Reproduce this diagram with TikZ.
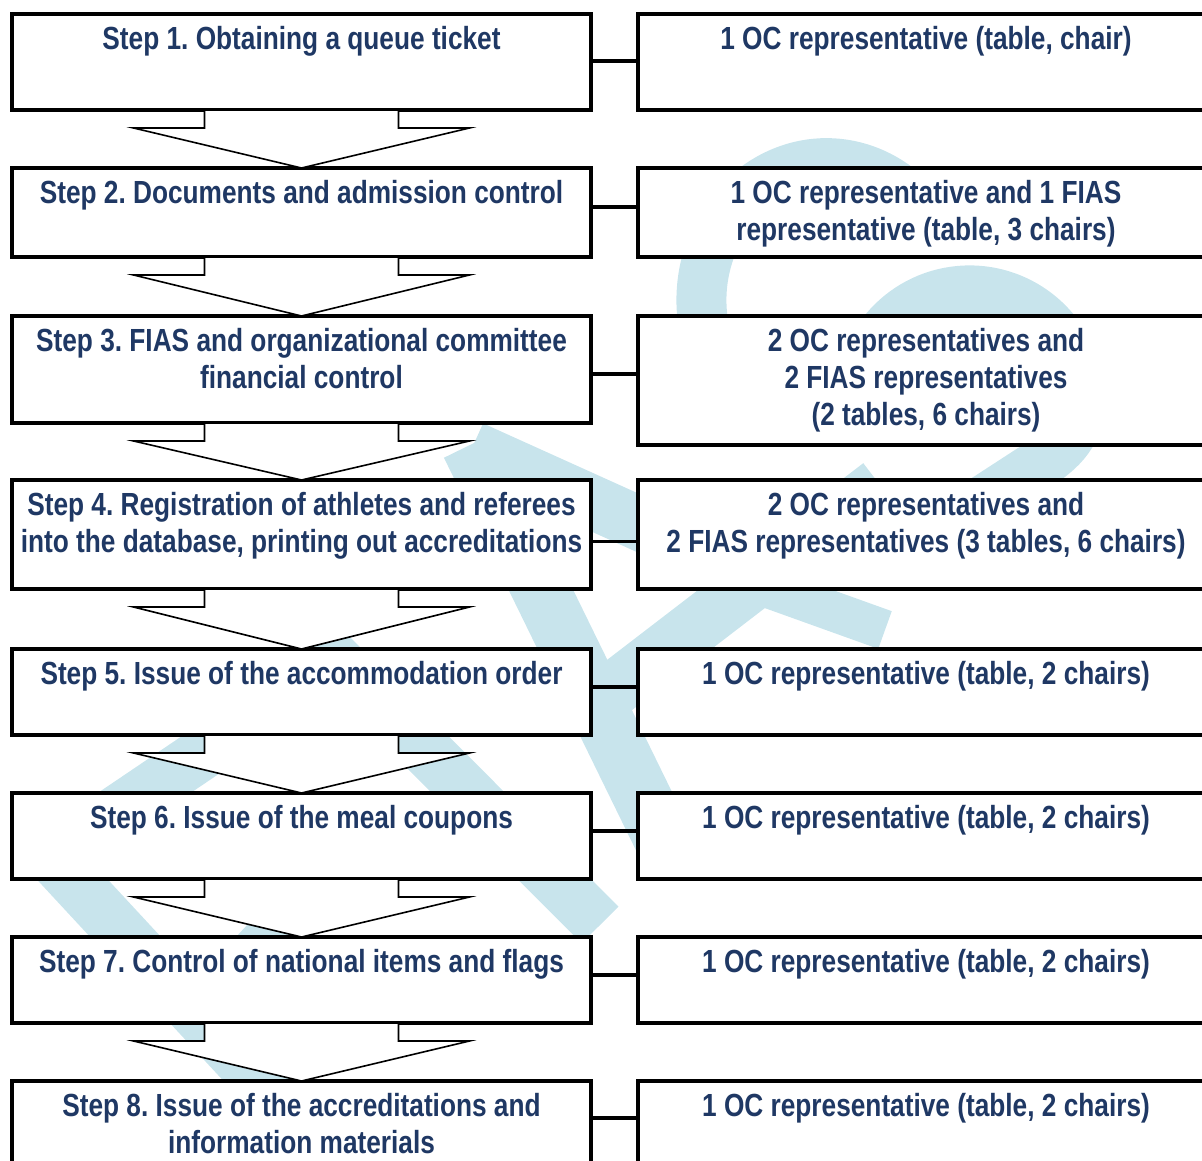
\documentclass[tikz,border=0pt]{standalone}
\usepackage{fontspec}
\setmainfont{Liberation Sans}[FakeStretch=0.82]
\usetikzlibrary{positioning}
\definecolor{stepnavy}{RGB}{31,56,100}
\definecolor{wmblue}{RGB}{200,228,236}
\tikzset{
  stepbox/.style={draw, line width=3.5pt, fill=white, rectangle, inner sep=0pt, outer sep=0pt},
  steptext/.style={text=stepnavy, font=\bfseries\fontsize{32}{37}\selectfont, align=center, inner sep=0pt},
  link/.style={line width=3.5pt},
  flowarrow/.style={draw, fill=white, line width=1.6pt, line join=miter},
  wm/.style={draw=wmblue, line width=52pt}
}
\frenchspacing

\begin{document}
\begin{tikzpicture}[x=1pt,y=1pt]
      \useasboundingbox (0,0) rectangle (1202,1160);
      % watermark in the background (image pixels, y going down)
      \begin{scope}[shift={(0,1160)}, yscale=-1]
        \draw [wm, line width=50pt] (709,347) arc[start angle=160, end angle=330, x radius=125, y radius=137];
        \draw [wm, line width=50pt] (860,410) arc[start angle=175, end angle=360, radius=110] .. controls (1080,430) and (1065,450) .. (1030,470) -- (930,535);
        \draw [wm, line width=54pt] (472,448) -- (720,560);
        \draw [wm, line width=58pt] (470,445) -- (672,858);
        \draw [wm, line width=55pt] (600,700) -- (880,485);
        \draw [wm, line width=40pt] (690,560) -- (885,630);
        \draw [wm, line join=miter] (45,860) -- (338,662) -- (600,925);
        \draw [wm] (45,850) -- (360,1190);
        \draw [wm, line width=50pt] (230,980) -- (300,905);
      \end{scope}
      % steps
      \node[stepbox, minimum width=579, minimum height=96] (s1) at (301.5,1098) {};
      \node[stepbox, minimum width=579, minimum height=89] (s2) at (301.5,947.5) {};
      \node[stepbox, minimum width=579, minimum height=107] (s3) at (301.5,790.5) {};
      \node[stepbox, minimum width=579, minimum height=109] (s4) at (301.5,625.5) {};
      \node[stepbox, minimum width=579, minimum height=86] (s5) at (301.5,468) {};
      \node[stepbox, minimum width=579, minimum height=86] (s6) at (301.5,324) {};
      \node[stepbox, minimum width=579, minimum height=86] (s7) at (301.5,180) {};
      \node[stepbox, minimum width=579, minimum height=99] (s8) at (301.5,29.5) {};
      % staff
      \node[stepbox, minimum width=576, minimum height=96] (r1) at (926,1098) {};
      \node[stepbox, minimum width=576, minimum height=89] (r2) at (926,947.5) {};
      \node[stepbox, minimum width=576, minimum height=129] (r3) at (926,779.5) {};
      \node[stepbox, minimum width=576, minimum height=109] (r4) at (926,625.5) {};
      \node[stepbox, minimum width=576, minimum height=86] (r5) at (926,468) {};
      \node[stepbox, minimum width=576, minimum height=86] (r6) at (926,324) {};
      \node[stepbox, minimum width=576, minimum height=86] (r7) at (926,180) {};
      \node[stepbox, minimum width=576, minimum height=99] (r8) at (926,29.5) {};
      \node[steptext, below=9pt of s1.north] (ts1) {\strut Step 1. Obtaining a queue ticket};
      \node[steptext, below=9pt of s2.north] (ts2) {\strut Step 2. Documents and admission control};
      \node[steptext, below=9pt of s3.north] (ts3) {\strut Step 3. FIAS and organizational committee\\financial control};
      \node[steptext, below=9pt of s4.north] (ts4) {\strut Step 4. Registration of athletes and referees\\into the database, printing out accreditations};
      \node[steptext, below=9pt of s5.north] (ts5) {\strut Step 5. Issue of the accommodation order};
      \node[steptext, below=9pt of s6.north] (ts6) {\strut Step 6. Issue of the meal coupons};
      \node[steptext, below=9pt of s7.north] (ts7) {\strut Step 7. Control of national items and flags};
      \node[steptext, below=9pt of s8.north] (ts8) {\strut Step 8. Issue of the accreditations and\\information materials};
      \node[steptext, below=9pt of r1.north] (tr1) {\strut 1 OC representative (table, chair)};
      \node[steptext, below=9pt of r2.north] (tr2) {\strut 1 OC representative and 1 FIAS\\representative (table, 3 chairs)};
      \node[steptext, below=9pt of r3.north] (tr3) {\strut 2 OC representatives and\\2 FIAS representatives\\(2 tables, 6 chairs)};
      \node[steptext, below=9pt of r4.north] (tr4) {\strut 2 OC representatives and\\2 FIAS representatives (3 tables, 6 chairs)};
      \node[steptext, below=9pt of r5.north] (tr5) {\strut 1 OC representative (table, 2 chairs)};
      \node[steptext, below=9pt of r6.north] (tr6) {\strut 1 OC representative (table, 2 chairs)};
      \node[steptext, below=9pt of r7.north] (tr7) {\strut 1 OC representative (table, 2 chairs)};
      \node[steptext, below=9pt of r8.north] (tr8) {\strut 1 OC representative (table, 2 chairs)};
      % links to the staff boxes
      \draw [link] ([yshift=1]s1.east) -- ([yshift=1]s1.east -| r1.west);
      \draw [link] ([yshift=5.5]s2.east) -- ([yshift=5.5]s2.east -| r2.west);
      \draw [link] ([yshift=-4.5]s3.east) -- ([yshift=-4.5]s3.east -| r3.west);
      \draw [link] ([yshift=-7]s4.east) -- ([yshift=-7]s4.east -| r4.west);
      \draw [link] ([yshift=5]s5.east) -- ([yshift=5]s5.east -| r5.west);
      \draw [link] ([yshift=5]s6.east) -- ([yshift=5]s6.east -| r6.west);
      \draw [link] ([yshift=5]s7.east) -- ([yshift=5]s7.east -| r7.west);
      \draw [link] ([yshift=12.5]s8.east) -- ([yshift=12.5]s8.east -| r8.west);
      % block arrows between the steps
      \draw [flowarrow] ([xshift=-97]s1.south) |- ([xshift=-168,yshift=-18]s1.south) -- (s2.north) -- ([xshift=168,yshift=-18]s1.south) -| ([xshift=97]s1.south) -- cycle;
      \draw [flowarrow] ([xshift=-97]s2.south) |- ([xshift=-168,yshift=-18]s2.south) -- (s3.north) -- ([xshift=168,yshift=-18]s2.south) -| ([xshift=97]s2.south) -- cycle;
      \draw [flowarrow] ([xshift=-97]s3.south) |- ([xshift=-168,yshift=-18]s3.south) -- (s4.north) -- ([xshift=168,yshift=-18]s3.south) -| ([xshift=97]s3.south) -- cycle;
      \draw [flowarrow] ([xshift=-97]s4.south) |- ([xshift=-168,yshift=-18]s4.south) -- (s5.north) -- ([xshift=168,yshift=-18]s4.south) -| ([xshift=97]s4.south) -- cycle;
      \draw [flowarrow] ([xshift=-97]s5.south) |- ([xshift=-168,yshift=-18]s5.south) -- (s6.north) -- ([xshift=168,yshift=-18]s5.south) -| ([xshift=97]s5.south) -- cycle;
      \draw [flowarrow] ([xshift=-97]s6.south) |- ([xshift=-168,yshift=-18]s6.south) -- (s7.north) -- ([xshift=168,yshift=-18]s6.south) -| ([xshift=97]s6.south) -- cycle;
      \draw [flowarrow] ([xshift=-97]s7.south) |- ([xshift=-168,yshift=-18]s7.south) -- (s8.north) -- ([xshift=168,yshift=-18]s7.south) -| ([xshift=97]s7.south) -- cycle;
\end{tikzpicture}
\end{document}
